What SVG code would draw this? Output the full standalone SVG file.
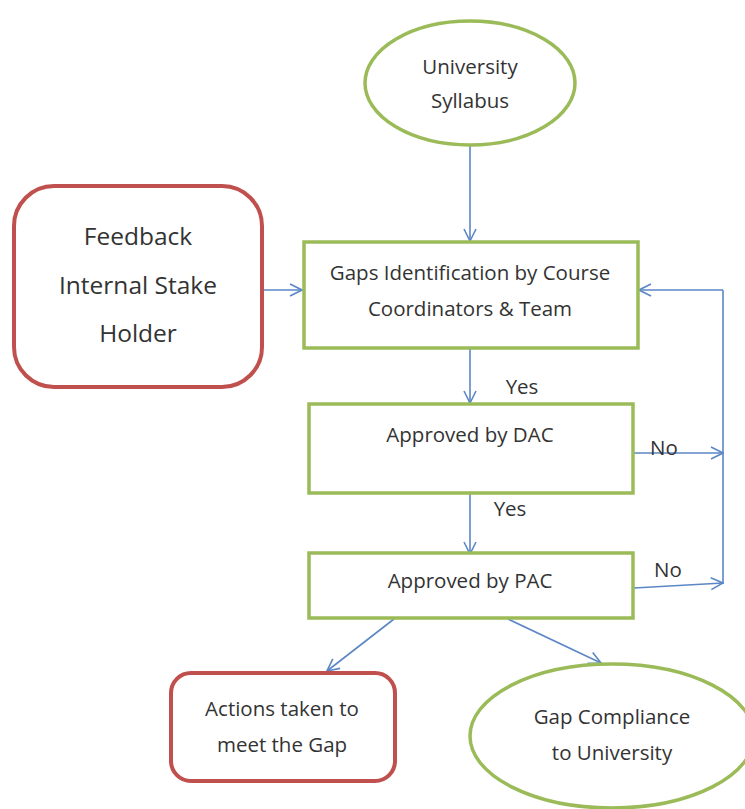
<svg xmlns="http://www.w3.org/2000/svg" width="745" height="809" viewBox="0 0 745 809">
<style>
.green{fill:#fff;stroke:#9bbb59;stroke-width:3.5}
.red{fill:#fff;stroke:#c0504d;stroke-width:4}
.t{font-family:"Open Sans",Lato,"Liberation Sans",sans-serif;fill:#333;text-anchor:middle;dominant-baseline:central}
.s{font-size:20.5px}
.l{font-size:24.5px}
.c{fill:none;stroke:#5b87c5;stroke-width:1.6}
</style>
<defs>
<marker id="ah" viewBox="0 0 14 14" refX="13" refY="7" markerWidth="14" markerHeight="14" markerUnits="userSpaceOnUse" orient="auto">
<path d="M1,1 L13,7 L1,13" fill="none" stroke="#5b87c5" stroke-width="1.6"/>
</marker>
</defs>
<rect width="745" height="809" fill="#fff"/>
<g id="connectors">
<line class="c" x1="470" y1="145" x2="470" y2="241" marker-end="url(#ah)"/>
<line class="c" x1="262" y1="290" x2="302" y2="290" marker-end="url(#ah)"/>
<line class="c" x1="470" y1="349" x2="470" y2="403" marker-end="url(#ah)"/>
<line class="c" x1="470" y1="494" x2="470" y2="554" marker-end="url(#ah)"/>
<polyline class="c" points="723,584 723,290"/>
<line class="c" x1="723" y1="290" x2="639" y2="290" marker-end="url(#ah)"/>
<line class="c" x1="634" y1="453" x2="723" y2="453" marker-end="url(#ah)"/>
<line class="c" x1="634" y1="588" x2="723" y2="583" marker-end="url(#ah)"/>
<line class="c" x1="394" y1="619" x2="327" y2="671" marker-end="url(#ah)"/>
<line class="c" x1="508" y1="619" x2="601" y2="663" marker-end="url(#ah)"/>
<text class="t s" x="522" y="386">Yes</text>
<text class="t s" x="510" y="508">Yes</text>
<text class="t s" x="664" y="447">No</text>
<text class="t s" x="668" y="569">No</text>
</g>
<g id="university-syllabus">
<ellipse class="green" cx="470" cy="83" rx="105" ry="62"/>
<text class="t s" x="470" y="66">University</text>
<text class="t s" x="470" y="100">Syllabus</text>
</g>
<g id="feedback">
<rect class="red" x="14" y="186" width="248" height="201" rx="40"/>
<text class="t l" x="138" y="235">Feedback</text>
<text class="t l" x="138" y="284">Internal Stake</text>
<text class="t l" x="138" y="332">Holder</text>
</g>
<g id="gaps-identification">
<rect class="green" x="304" y="242" width="334" height="106"/>
<text class="t s" x="470" y="272">Gaps Identification by Course</text>
<text class="t s" x="470" y="308">Coordinators &amp; Team</text>
</g>
<g id="approved-dac">
<rect class="green" x="309" y="404" width="324" height="89"/>
<text class="t s" x="470" y="434">Approved by DAC</text>
</g>
<g id="approved-pac">
<rect class="green" x="309" y="553" width="324" height="65"/>
<text class="t s" x="470" y="580">Approved by PAC</text>
</g>
<g id="actions-taken">
<rect class="red" x="171" y="673" width="224" height="108" rx="20"/>
<text class="t s" x="282" y="708">Actions taken to</text>
<text class="t s" x="282" y="744">meet the Gap</text>
</g>
<g id="gap-compliance">
<ellipse class="green" cx="612" cy="736" rx="142" ry="72"/>
<text class="t s" x="612" y="716">Gap Compliance</text>
<text class="t s" x="612" y="752">to University</text>
</g>
</svg>
